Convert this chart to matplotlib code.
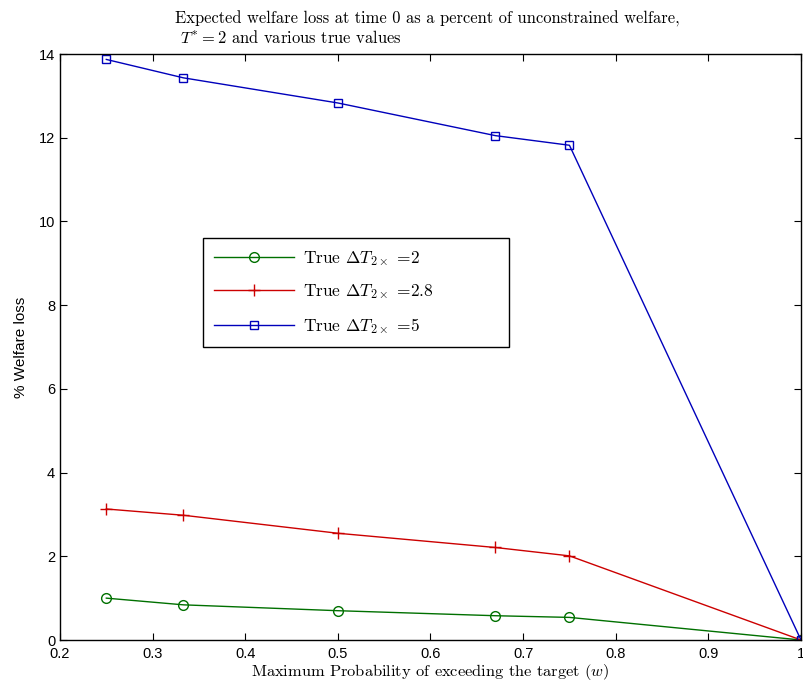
import matplotlib
matplotlib.use("Agg")
import matplotlib.pyplot as plt

# Maximum probability of exceeding the target
w = [0.25, 1/3, 0.5, 0.67, 0.75, 1.0]

# Expected welfare loss (%) for each true climate sensitivity
loss_2 = [1.00, 0.84, 0.70, 0.58, 0.54, 0.0]
loss_28 = [3.13, 2.98, 2.55, 2.21, 2.01, 0.0]
loss_5 = [13.87, 13.43, 12.83, 12.05, 11.82, 0.0]

labels = [r"True $\Delta T_{2\times}$ =2",
          r"True $\Delta T_{2\times}$ =2.8",
          r"True $\Delta T_{2\times}$ =5"]

xticks = [0.2, 0.3, 0.4, 0.5, 0.6, 0.7, 0.8, 0.9, 1.0]
xtick_labels = ["0.2", "0.3", "0.4", "0.5", "0.6", "0.7", "0.8", "0.9", "1"]
yticks = [0, 2, 4, 6, 8, 10, 12, 14]

plt.rcParams["mathtext.fontset"] = "cm"
serif = {"family": "serif", "fontname": "cmr10"}

fig = plt.figure(figsize=(8.04, 6.84), dpi=100)
ax = fig.add_axes([60/804, 44/684, 741/804, 586/684])

ax.plot(w, loss_2, color="#007000", marker="o", markersize=7, markerfacecolor="none",
        markeredgewidth=1.0, linewidth=1.0, label=labels[0])
ax.plot(w, loss_28, color="#cc0000", marker="+", markersize=8,
        markeredgewidth=1.0, linewidth=1.0, label=labels[1])
ax.plot(w, loss_5, color="#0000bb", marker="s", markersize=6, markerfacecolor="none",
        markeredgewidth=1.0, linewidth=1.0, label=labels[2])

ax.set_xlim(0.2, 1.0)
ax.set_ylim(0, 14)
ax.set_xticks(xticks)
ax.set_xticklabels(xtick_labels)
ax.set_yticks(yticks)
ax.tick_params(direction="in", top=True, right=True, length=5, width=0.8,
               labelsize=10.5)
ax.tick_params(axis="x", pad=5)
for lab in ax.get_xticklabels() + ax.get_yticklabels():
    lab.set_fontfamily("Liberation Sans")
for sp in ax.spines.values():
    sp.set_linewidth(1.0)

ax.set_ylabel("% Welfare loss", fontfamily="Liberation Sans", fontsize=11, labelpad=8)
ax.set_xlabel(r"Maximum Probability of exceeding the target ($w$)", fontsize=11.8,
              labelpad=1, **serif)
ax.set_title("Expected welfare loss at time 0 as a percent of unconstrained welfare,\n"
             r" $T^{*}=2$ and various true values", fontsize=11.9, loc="center",
             ha="left", x=0.155, pad=8, linespacing=1.1, **serif)

leg = ax.legend(loc="upper left", bbox_to_anchor=(0.193, 0.676, 0.413, 0.01),
                mode="expand", borderaxespad=0, fancybox=False,
                framealpha=1, edgecolor="black", handlelength=4.6, borderpad=0.65,
                labelspacing=0.82, handletextpad=0.5, prop={"family": "serif", "size": 12.5})
leg.get_frame().set_linewidth(1.0)
for t in leg.get_texts():
    t.set_fontname("cmr10")

fig.savefig("out.png", dpi=100)
